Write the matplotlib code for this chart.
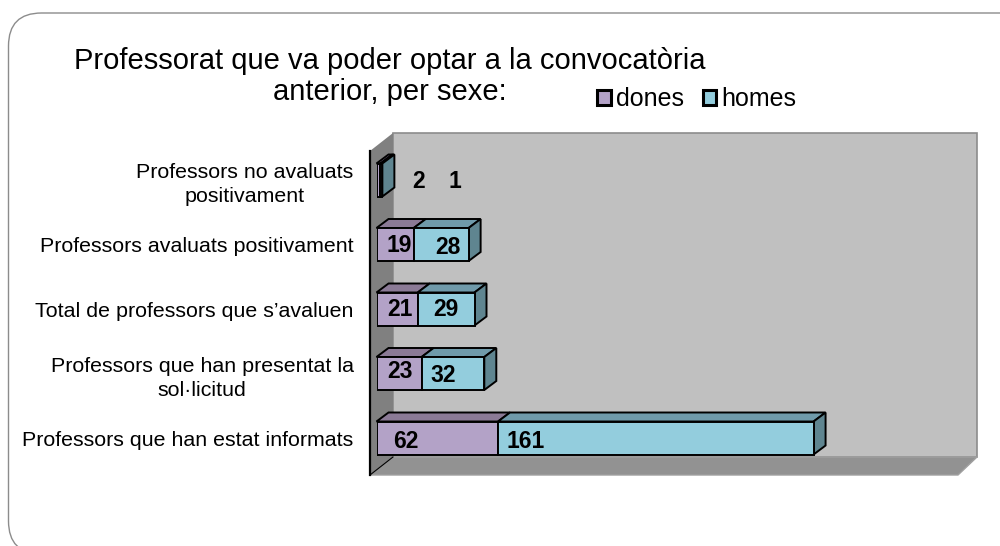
import matplotlib
matplotlib.use("Agg")
import matplotlib.pyplot as plt
from matplotlib.patches import FancyBboxPatch, Polygon

plt.rcParams['font.family'] = ['Liberation Sans', 'DejaVu Sans']

categories = ["Professors que han estat informats",
              "Professors que han presentat la\nsol·licitud",
              "Total de professors que s’avaluen",
              "Professors avaluats positivament",
              "Professors no avaluats\npositivament"]
dones = [62, 23, 21, 19, 2]
homes = [161, 32, 29, 28, 1]

PURPLE = "#b3a2c7"
BLUE = "#93cddd"
PURPLE_TOP = "#8b7a96"
BLUE_TOP = "#6f9aaa"
BLUE_SIDE = "#5f8590"

W, H = 1000, 546
fig = plt.figure(figsize=(W/100, H/100), dpi=100)

# background layer in pixels: slide frame, chart walls, title
bg = fig.add_axes([0, 0, 1, 1])
bg.set_xlim(0, W)
bg.set_ylim(H, 0)
bg.axis("off")

bg.add_patch(FancyBboxPatch((8.5, 13), 1100, 541,
                            boxstyle="round,pad=0,rounding_size=33",
                            fc="white", ec="#8c8c8c", lw=1.0))
bg.add_patch(Polygon([(393, 133), (977, 133), (977, 457), (393, 457)],
                     fc="#c0c0c0", ec="#8c8c8c", lw=1.2))
bg.add_patch(Polygon([(370, 475), (393, 457), (977, 457), (958, 475)],
                     fc="#929292", ec="#a0a0a0", lw=1.0))
bg.add_patch(Polygon([(370, 151), (393, 133), (393, 457), (370, 475)],
                     fc="#808080", ec="none"))
bg.plot([370, 370], [151, 475], color="black", lw=1.6)
bg.plot([370, 393], [475, 457], color="black", lw=0.8)

bg.text(390, 61, "Professorat que va poder optar a la convocatòria",
        fontsize=21, ha="center", va="center", color="black")
bg.text(390, 92, "anterior, per sexe:",
        fontsize=21, ha="center", va="center", color="black")

# bars layer: x=0 at px 376.5, 1.96 px per professor, 64.5 px per category
PX_X, PX_Y = 1.96, 64.5
x0_px, y0_px = 376.5, 438
left_px, right_px, top_px, bot_px = x0_px, 977, 133, 475
ax = fig.add_axes([left_px/W, 1-bot_px/H, (right_px-left_px)/W, (bot_px-top_px)/H])
ax.patch.set_alpha(0)
ax.set_xlim(0, (right_px-left_px)/PX_X)
ax.set_ylim((y0_px-bot_px)/PX_Y, (y0_px-top_px)/PX_Y)
for s in ax.spines.values():
    s.set_visible(False)
ax.set_xticks([])

ypos = list(range(len(categories)))
ax.set_yticks(ypos)
ax.set_yticklabels(categories, fontsize=15.4, ma="center", color="black", linespacing=1.35)
ax.tick_params(axis="y", length=0, pad=16.5)

bar_h = 33/PX_Y
dx, dy = 12/PX_X, 9/PX_Y

def depth(x1, x2, y, fc, side=None):
    t = y + bar_h/2
    b = y - bar_h/2
    ax.add_patch(Polygon([(x1, t), (x1+dx, t+dy), (x2+dx, t+dy), (x2, t)],
                         fc=fc, ec="black", lw=1.4, clip_on=False))
    if side:
        ax.add_patch(Polygon([(x2, t), (x2+dx, t+dy), (x2+dx, b+dy), (x2, b)],
                             fc=side, ec="black", lw=1.4, clip_on=False))

for y, d, h in zip(ypos, dones, homes):
    depth(0, d, y, PURPLE_TOP)
    depth(d, d+h, y, BLUE_TOP, BLUE_SIDE)

b1 = ax.barh(ypos, dones, height=bar_h, color=PURPLE, edgecolor="black",
             linewidth=1.4, label="dones", zorder=3)
b2 = ax.barh(ypos, homes, left=dones, height=bar_h, color=BLUE, edgecolor="black",
             linewidth=1.4, label="homes", zorder=3)

# value labels sit where the original placed them by hand
dones_lab = [(406, 441), (400, 371), (400, 310), (399, 246), (419, 181)]
homes_lab = [(526, 441), (443, 375), (446, 310), (448, 247), (455, 181)]
for vals, pos in ((dones, dones_lab), (homes, homes_lab)):
    for v, (px, py) in zip(vals, pos):
        ax.text(px, py, str(v), transform=bg.transData, fontsize=16.5, fontweight="bold",
                ha="center", va="center", color="black", zorder=5)

leg = fig.legend(handles=[b1, b2], labels=["dones", "homes"], ncol=2, frameon=False,
                 fontsize=18, handlelength=0.55, handleheight=0.55, handletextpad=0.2,
                 columnspacing=0.75, borderpad=0, borderaxespad=0,
                 loc="center left", bbox_to_anchor=(597/W, 1-99/H))
for p in leg.get_patches():
    p.set_linewidth(2.2)

fig.savefig("out.png", dpi=100)
